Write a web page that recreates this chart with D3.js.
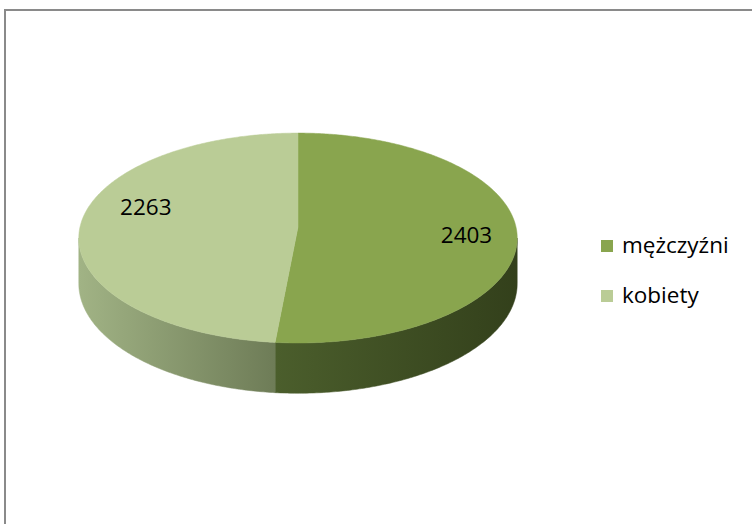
<!DOCTYPE html>
<html>
<head>
<meta charset="utf-8">
<script src="https://cdn.jsdelivr.net/npm/d3@7"></script>
<style>
  body { margin: 0; background: #fff; }
  svg { display: block; font-family: 'Open Sans', sans-serif; }
</style>
</head>
<body>
<svg id="chart" width="752" height="524"></svg>
<script>
var categories = ['mężczyźni', 'kobiety']
var values = [2403, 2263]
var topColors = ['#89a54e', '#bacc96']
var sideColors = [['#4b5e2c', '#33401b'], ['#a1b385', '#6e7c57']]

var width = 752
var height = 524

// pie geometry (perspective ellipse, like the excel 3d pie)
var cx = 298
var cy = 227
var rx = 218
var ry = 103.8
var depth = 45
var persp = -0.105

var svg = d3.select('#chart')

svg.append('rect')
  .attr('x', 5)
  .attr('y', 10)
  .attr('width', width + 10)
  .attr('height', height + 10)
  .attr('fill', '#fff')
  .attr('stroke', '#8a8a8a')
  .attr('stroke-width', 2)

var defs = svg.append('defs')

// project an angle (clockwise from 12 o'clock) and radius fraction on the pie plane
function proj (a, r, z) {
  var u = r * Math.sin(a)
  var v = -r * Math.cos(a)
  var s = 1 / (1 + persp * v)
  return [cx + rx * u * s, cy + ry * v * s + (z || 0) * depth * s]
}

var pie = d3.pie().sort(null).startAngle(0).endAngle(2 * Math.PI)
var arcs = pie(values)

var xScale = d3.scaleLinear().domain([-1, 1]).range([cx - rx, cx + rx])

function arcPoints (a0, a1, z) {
  var n = Math.max(2, Math.ceil((a1 - a0) / 0.01))
  var pts = []
  for (var i = 0; i <= n; i++) {
    pts.push(proj(a0 + (a1 - a0) * i / n, 1, z))
  }
  return pts
}

var line = d3.line()

// visible side wall range (front part)
var sideStart = Math.acos(-0.105) // ~96deg
var sideEnd = 2 * Math.PI - sideStart

var sides = svg.append('g').attr('class', 'sides')
arcs.forEach(function (d, i) {
  var a0 = Math.max(d.startAngle, sideStart)
  var a1 = Math.min(d.endAngle, sideEnd)
  if (a1 <= a0) return
  var topEdge = arcPoints(a0, a1, 0)
  var bottomEdge = arcPoints(a0, a1, 1).reverse()
  var xs = topEdge.map(function (p) { return p[0] })
  var id = 'side-grad-' + i
  var grad = defs.append('linearGradient')
    .attr('id', id)
    .attr('gradientUnits', 'userSpaceOnUse')
    .attr('x1', d3.min(xs)).attr('y1', 0)
    .attr('x2', d3.max(xs)).attr('y2', 0)
  // the colour runs from left to right on the screen
  var left = i === 0 ? sideColors[i][0] : sideColors[i][0]
  var right = sideColors[i][1]
  grad.append('stop').attr('offset', '0%').attr('stop-color', left)
  grad.append('stop').attr('offset', '100%').attr('stop-color', right)
  sides.append('path')
    .attr('d', line(topEdge.concat(bottomEdge)) + 'Z')
    .attr('fill', 'url(#' + id + ')')
    .attr('stroke', 'url(#' + id + ')')
    .attr('stroke-width', 0.5)
})

var tops = svg.append('g').attr('class', 'tops')
arcs.forEach(function (d, i) {
  var pts = [proj(0, 0, 0)].concat(arcPoints(d.startAngle, d.endAngle, 0))
  tops.append('path')
    .attr('d', line(pts) + 'Z')
    .attr('fill', topColors[i])
    .attr('stroke', topColors[i])
    .attr('stroke-width', 0.5)
})

// data labels, excel "best fit" sits them a bit off the mid angle
var labelNudge = [[-2, 4], [17, -17]]
arcs.forEach(function (d, i) {
  var mid = (d.startAngle + d.endAngle) / 2
  var p = proj(mid, 0.78, 0)
  svg.append('text')
    .attr('x', p[0] + labelNudge[i][0])
    .attr('y', p[1] + labelNudge[i][1])
    .attr('text-anchor', 'middle')
    .attr('dominant-baseline', 'central')
    .attr('font-size', 22.5)
    .attr('fill', '#000')
    .text(d.data)
})

// legend
var legendY = d3.scalePoint().domain(categories).range([246, 296])
var legend = svg.append('g').attr('class', 'legend')
categories.forEach(function (c, i) {
  legend.append('rect')
    .attr('x', 601)
    .attr('y', legendY(c) - 6)
    .attr('width', 12)
    .attr('height', 12)
    .attr('fill', topColors[i])
  legend.append('text')
    .attr('x', 622)
    .attr('y', legendY(c) + 7)
    .attr('font-size', 22.5)
    .attr('fill', '#000')
    .text(c)
})
</script>
</body>
</html>
